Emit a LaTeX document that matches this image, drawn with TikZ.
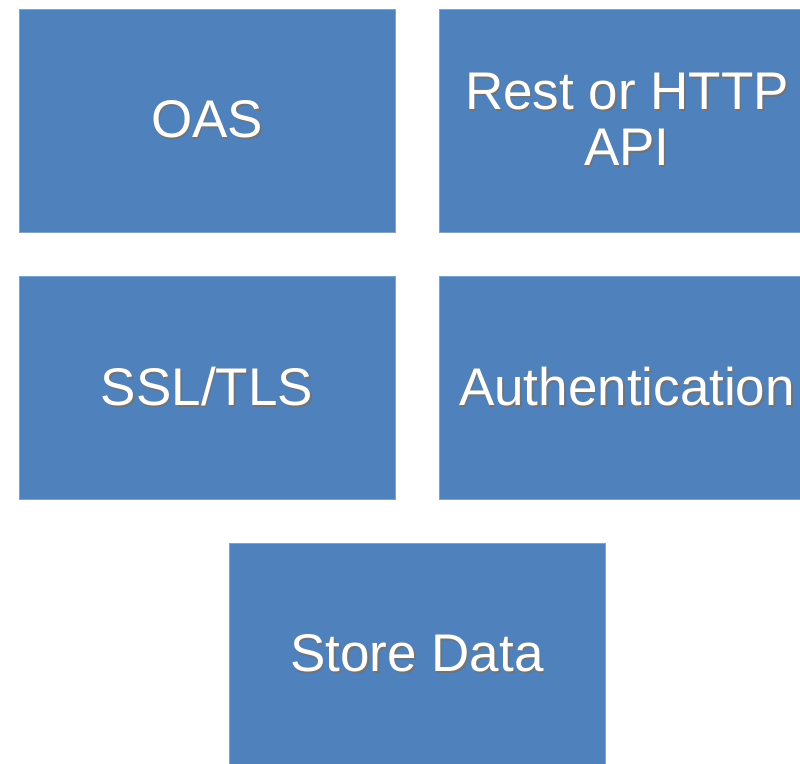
\documentclass[tikz,border=0pt]{standalone}
\usepackage{fontspec}
\setmainfont{Liberation Sans}
\definecolor{boxblue}{HTML}{4F81BD}
\definecolor{boxedge}{HTML}{7FA3CF}
\newcommand\shd[1]{\makebox[0pt][l]{\hspace{1.6pt}\raisebox{-1.8pt}{\textcolor{black!55}{#1}}}#1}
\begin{document}
\begin{tikzpicture}[x=1pt,y=1pt,
  blk/.style={draw=boxedge, line width=0.8pt, fill=boxblue, minimum width=376pt, minimum height=223pt,
    inner sep=0pt, text=white, align=center, font=\fontsize{53}{56}\selectfont}]
\useasboundingbox (0,0) rectangle (800,763);
\clip (0,0) rectangle (800,763);
\node[blk] (oas)  at (207,642.5) {\shd{OAS}};
\node[blk] (rest) at (627,642.5) {\shd{Rest or HTTP}\\\shd{API}};
\node[blk] (ssl)  at (207,375.5) {\shd{SSL/TLS}};
\node[blk] (auth) at (627,375.5) {\shd{Authentication}};
\node[blk] (store) at (417,108.5) {\shd{Store Data}};
\end{tikzpicture}
\end{document}
